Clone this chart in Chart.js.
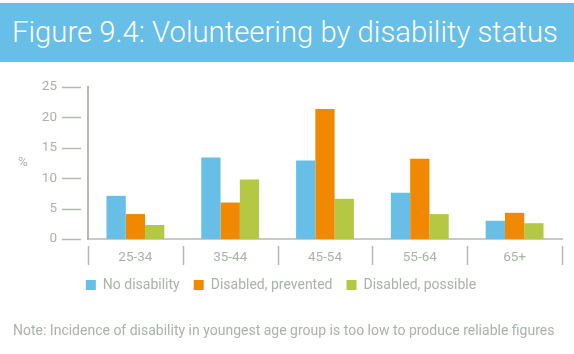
<!DOCTYPE html>
<html>
<head>
<meta charset="utf-8">
<script src="https://cdn.jsdelivr.net/npm/chart.js@4"></script>
<style>
  html, body { margin: 0; padding: 0; background: #fff; }
  body { width: 574px; height: 354px; position: relative; overflow: hidden; font-family: Roboto, sans-serif; }
  .title {
    position: absolute; left: 0; top: 3px; width: 574px; height: 59px;
    background: #67bee6; color: #fff; font-weight: 300; font-size: 29.3px;
    line-height: 59px; padding-left: 12px; box-sizing: border-box; white-space: nowrap;
  }
  .note {
    position: absolute; left: 13px; top: 322px; font-size: 14px; color: #a9b3a8; white-space: nowrap;
  }
  .wrap { position: absolute; left: 0; top: 0; width: 574px; height: 354px; }
</style>
</head>
<body>
<div class="wrap"><canvas id="chart"></canvas></div>
<div class="title">Figure 9.4: Volunteering by disability status</div>
<div class="note">Note: Incidence of disability in youngest age group is too low to produce reliable figures</div>
<script>
const ageGroups = ["25-34", "35-44", "45-54", "55-64", "65+"];
const noDisability = [7.1, 13.4, 12.9, 7.6, 3.0];
const disabledPrevented = [4.1, 6.0, 21.4, 13.2, 4.3];
const disabledPossible = [2.3, 9.8, 6.6, 4.1, 2.6];
const yTicks = [0, 5, 10, 15, 20, 25];

const textGray = "#a9b3a8";
const axisGray = "#b3bbb1";

// short tick marks off the axes, plus the "%" label
const axisMarks = {
  id: "axisMarks",
  afterDraw: (chart) => {
    const ctx = chart.ctx;
    const x = chart.scales.x;
    const y = chart.scales.y;
    const area = chart.chartArea;
    ctx.save();
    ctx.strokeStyle = axisGray;
    ctx.lineWidth = 1.5;
    yTicks.forEach((v) => {
      const py = Math.round(y.getPixelForValue(v)) + 0.5;
      ctx.beginPath();
      ctx.moveTo(area.left - 26, py);
      ctx.lineTo(area.left - 7, py);
      ctx.stroke();
    });
    const step = (x.right - x.left) / ageGroups.length;
    for (let i = 0; i <= ageGroups.length; i++) {
      const px = Math.round(x.getPixelForValue(i) - step / 2) + 0.5;
      ctx.beginPath();
      ctx.moveTo(px, area.bottom + 7);
      ctx.lineTo(px, area.bottom + 26);
      ctx.stroke();
    }
    ctx.fillStyle = textGray;
    ctx.font = "13.5px Roboto";
    ctx.textAlign = "center";
    ctx.textBaseline = "middle";
    ctx.fillText("%", 23, y.getPixelForValue(12.5));
    ctx.restore();
  },
};

const buildSet = (label, data, color) => {
  return {
    label: label,
    data: data,
    backgroundColor: color,
    borderWidth: 0,
    categoryPercentage: 0.61,
    barPercentage: 1,
  };
};

new Chart(document.getElementById("chart"), {
  type: "bar",
  data: {
    labels: ageGroups,
    datasets: [
      buildSet("No disability", noDisability, "#67bee6"),
      buildSet("Disabled, prevented", disabledPrevented, "#f08900"),
      buildSet("Disabled, possible", disabledPossible, "#b4c843"),
    ],
  },
  options: {
    responsive: true,
    maintainAspectRatio: false,
    animation: false,
    layout: {
      padding: { top: 87, right: 12, left: 0, bottom: 52 },
    },
    scales: {
      x: {
        grid: { display: false, drawTicks: false },
        border: { display: true, color: "#c6ccc4", width: 2 },
        ticks: { color: textGray, font: { family: "Roboto", size: 13.5 }, padding: 11 },
        afterFit: (scale) => { scale.height = 25; },
      },
      y: {
        min: 0,
        max: 25,
        grid: { display: false, drawTicks: false },
        border: { display: true, color: axisGray, width: 2 },
        ticks: {
          stepSize: 5,
          color: textGray,
          font: { family: "Roboto", size: 13.5 },
          padding: 31,
        },
        afterFit: (scale) => { scale.width = 88; },
      },
    },
    plugins: {
      legend: {
        position: "bottom",
        labels: {
          color: textGray,
          font: { family: "Roboto", size: 14 },
          boxWidth: 10,
          boxHeight: 10,
          padding: 14,
        },
      },
      tooltip: { enabled: false },
    },
  },
  plugins: [axisMarks],
});
</script>
</body>
</html>
